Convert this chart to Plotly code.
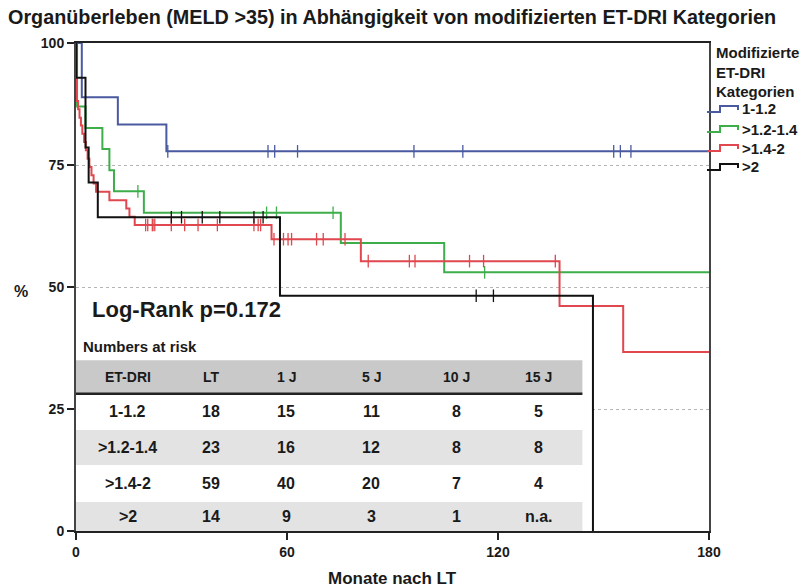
import plotly.graph_objects as go

# ---------------- data ----------------
groups = ["1-1.2", ">1.2-1.4", ">1.4-2", ">2"]
colors = ["#4a5aa0", "#3dae4a", "#e0474e", "#111111"]

blue_t = [0, 1.65, 11.9, 25.7, 180]
blue_s = [100, 88.9, 83.3, 77.8, 77.8]
blue_c = [26.1, 54.6, 56.5, 63.0, 96.1, 110.0, 152.9, 154.8, 157.8]

green_t = [0, 0.3, 2.7, 7.5, 9.5, 10.8, 19.3, 75.3, 104.7, 180]
green_s = [100, 87.0, 82.6, 78.3, 73.9, 69.6, 65.2, 59.0, 53.0, 53.0]
green_c = [17.6, 54.2, 57.0, 73.1, 116.2]

red_t = [0, 0.2, 0.6, 1.0, 1.4, 1.8, 2.3, 2.8, 3.3, 3.8, 4.4, 5.0, 5.7,
         9.5, 14.3, 15.2, 16.7, 55.6, 81.0, 137.5, 155.6, 180]
red_s = [100, 88.1, 86.4, 84.7, 83.1, 81.4, 79.7, 78.0, 76.3, 74.6, 72.9, 71.2, 69.5,
         67.8, 66.1, 64.4, 62.7, 59.8, 55.3, 46.1, 36.7, 36.7]
red_c = [19.8, 20.4, 21.7, 21.9, 22.4, 27.1, 30.9, 34.7, 40.2, 50.6, 51.8, 52.5,
         56.3, 59.0, 60.3, 61.3, 68.4, 70.3, 76.5, 83.1, 94.8, 96.4, 111.9, 115.9, 136.3]

black_t = [0, 0.1, 2.7, 3.6, 6.2, 58.0, 147.0]
black_s = [100, 92.9, 78.6, 71.4, 64.3, 48.2, 0]
black_c = [27.1, 30.0, 35.9, 40.9, 50.6, 53.2, 113.8, 118.7]

times = [blue_t, green_t, red_t, black_t]
survs = [blue_s, green_s, red_s, black_s]
censors = [blue_c, green_c, red_c, black_c]

y_ticks = [0, 25, 50, 75, 100]
x_ticks = [0, 60, 120, 180]

table_cols = ["ET-DRI", "LT", "1 J", "5 J", "10 J", "15 J"]
table_rows = [
    ["1-1.2", "18", "15", "11", "8", "5"],
    [">1.2-1.4", "23", "16", "12", "8", "8"],
    [">1.4-2", "59", "40", "20", "7", "4"],
    [">2", "14", "9", "3", "1", "n.a."],
]

title_text = "Organüberleben (MELD >35) in Abhängigkeit von modifizierten ET-DRI Kategorien"
legend_title = ["Modifizierte", "ET-DRI", "Kategorien"]
logrank_text = "Log-Rank p=0.172"

# ---------------- helpers ----------------
FONT = "Liberation Sans, Arial, sans-serif"
TXT = "#1a1a1a"
Wfig, Hfig = 808, 587
L, R, T, B = 76, 709, 43, 531
PW, PH = R - L, B - T


def px_x(px):
    return (px - L) / PW


def px_y(py):
    return (B - py) / PH


def step_value(t_list, s_list, t):
    v = s_list[0]
    for tt, ss in zip(t_list, s_list):
        if tt <= t:
            v = ss
    return v


def bold(size):
    return dict(family=FONT, size=size, color=TXT, weight="bold")


fig = go.Figure()

for name, col, t, s, c in zip(groups, colors, times, survs, censors):
    fig.add_trace(go.Scatter(
        x=t, y=s, mode="lines", line=dict(color=col, width=2, shape="hv"),
        name=name, showlegend=False, hoverinfo="skip"))
    fig.add_trace(go.Scatter(
        x=c, y=[step_value(t, s, ci) for ci in c], mode="markers",
        marker=dict(symbol="line-ns-open", size=9, color=col, line=dict(color=col, width=1.3)),
        showlegend=False, hoverinfo="skip"))

shapes = []
annotations = []

# white box under the black curve (hides grid)
shapes.append(dict(type="rect", xref="x", yref="y", x0=0, x1=black_t[-1], y0=0,
                   y1=black_s[-2], fillcolor="white", line=dict(width=0), layer="between"))

# table
tx0, tx1 = 0, 144
col_x = [14.7, 38.4, 59.8, 84.0, 108.1, 131.6]
head_y0, head_y1 = 28.1, 35.0
row_edges = [28.1, 20.7, 13.5, 5.95, 0]
shapes.append(dict(type="rect", xref="x", yref="y", x0=tx0, x1=tx1, y0=head_y0, y1=head_y1,
                   fillcolor="#c9c9c9", line=dict(width=0), layer="between"))
for i in range(4):
    if i % 2 == 1:
        shapes.append(dict(type="rect", xref="x", yref="y", x0=tx0, x1=tx1,
                           y0=row_edges[i + 1], y1=row_edges[i],
                           fillcolor="#e3e3e3", line=dict(width=0), layer="between"))
shapes.append(dict(type="line", xref="x", yref="y", x0=tx0, x1=tx1, y0=head_y0, y1=head_y0,
                   line=dict(color="#222", width=2.5), layer="between"))

for j, h in enumerate(table_cols):
    annotations.append(dict(x=col_x[j], y=(head_y0 + head_y1) / 2, xref="x", yref="y",
                            text=h, showarrow=False, xanchor="center", yanchor="middle",
                            font=bold(14)))
for i, row in enumerate(table_rows):
    yc = (row_edges[i] + row_edges[i + 1]) / 2
    for j, v in enumerate(row):
        annotations.append(dict(x=col_x[j], y=yc, xref="x", yref="y", text=v, showarrow=False,
                                xanchor="center", yanchor="middle", font=bold(16)))

annotations.append(dict(x=1.5, y=37.8, xref="x", yref="y", text="Numbers at risk", showarrow=False,
                        xanchor="left", yanchor="middle", font=bold(15)))
annotations.append(dict(x=4.0, y=45.4, xref="x", yref="y", text=logrank_text, showarrow=False,
                        xanchor="left", yanchor="middle", font=bold(22)))

# axis labels
annotations.append(dict(x=px_x(21), y=px_y(291), xref="paper", yref="paper", text="%",
                        showarrow=False, xanchor="center", yanchor="middle", font=bold(16)))
annotations.append(dict(x=px_x(392), y=px_y(578), xref="paper", yref="paper", text="Monate nach LT",
                        showarrow=False, xanchor="center", yanchor="middle", font=bold(17)))

# legend (custom)
for k, line in enumerate(legend_title):
    annotations.append(dict(x=px_x(714), y=px_y([52, 72, 91][k]), xref="paper", yref="paper",
                            text=line, showarrow=False, xanchor="left", yanchor="middle",
                            font=bold(15)))
leg_y = [109, 129, 148, 167]
for k, (name, col) in enumerate(zip(groups, colors)):
    yc = leg_y[k]
    path = (f"M {px_x(707)},{px_y(yc + 3)} L {px_x(720)},{px_y(yc + 3)} "
            f"L {px_x(720)},{px_y(yc - 3)} L {px_x(738)},{px_y(yc - 3)} L {px_x(738)},{px_y(yc + 1)}")
    shapes.append(dict(type="path", xref="paper", yref="paper", path=path,
                       line=dict(color=col, width=2)))
    annotations.append(dict(x=px_x(740), y=px_y(yc), xref="paper", yref="paper", text=name,
                            showarrow=False, xanchor="left", yanchor="middle", font=bold(15)))

fig.update_layout(
    width=Wfig, height=Hfig,
    margin=dict(l=L, r=Wfig - R, t=T, b=Hfig - B),
    paper_bgcolor="white", plot_bgcolor="white",
    title=dict(text=title_text, x=8 / Wfig, xanchor="left", xref="container",
               y=1 - 17 / Hfig, yanchor="middle", yref="container",
               font=bold(19.8)),
    shapes=shapes, annotations=annotations,
    xaxis=dict(range=[0, 180], tickvals=x_ticks, ticks="outside", ticklen=7, tickwidth=1.5,
               tickcolor="#222", showline=True, linewidth=2, linecolor="#222", mirror=True,
               showgrid=False, zeroline=False, tickfont=bold(14)),
    yaxis=dict(range=[0, 100], tickvals=y_ticks, ticks="outside", ticklen=7, tickwidth=1.5,
               tickcolor="#222", showline=True, linewidth=2, linecolor="#444", mirror=True,
               showgrid=True, gridcolor="#b5b5b5", griddash="dot", gridwidth=1, zeroline=False,
               tickfont=bold(14)),
)

fig.write_html("out.html")
